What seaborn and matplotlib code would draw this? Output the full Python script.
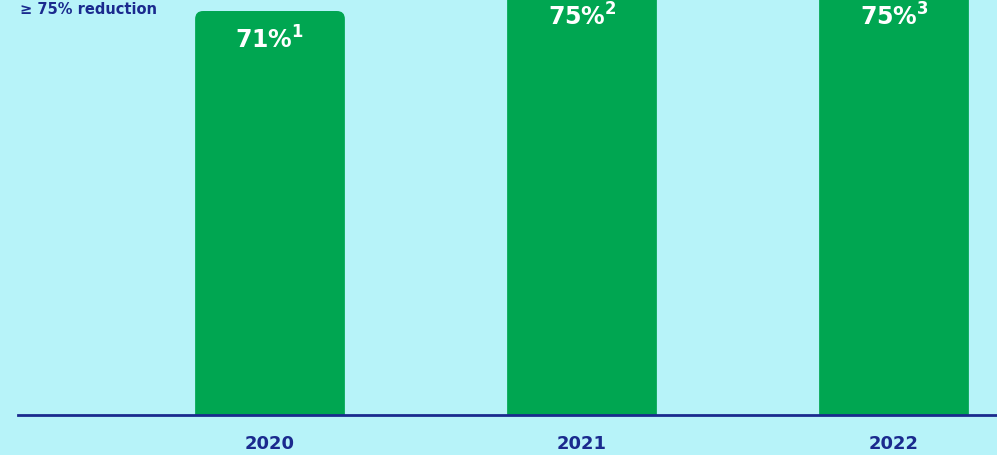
import matplotlib
matplotlib.use("Agg")
import matplotlib.pyplot as plt
import seaborn as sns
import pandas as pd
from matplotlib.patches import FancyBboxPatch

years = ["2020", "2021", "2022"]
values = [71, 75, 75]
value_labels = ["71%", "75%", "75%"]
footnotes = ["1", "2", "3"]
target_text = "≥ 75% reduction"

BG = "#b7f3f9"
GREEN = "#00a651"
NAVY = "#1a2a8e"

sns.set_theme(style="white")
plt.rcParams["font.family"] = ["DejaVu Sans"]
plt.rcParams["mathtext.fontset"] = "dejavusans"

df = pd.DataFrame({"year": years, "value": values})

W, H = 997, 456
fig = plt.figure(figsize=(W / 100, H / 100), dpi=100, facecolor=BG)
ax = fig.add_axes([18 / W, (H - 416) / H, (W - 18) / W, 416 / H])
ax.set_facecolor(BG)

sns.barplot(data=df, x="year", y="value", color=GREEN, saturation=1,
            width=0.48, ax=ax)

ax.set_xlim(-(270 - 18) / 312, 2 + (W - 894) / 312)
ax.set_ylim(0, 73.11)

# replace rectangles with rounded top bars
px_x = 312.0
px_y = 416 / 73.11
r = 8 / px_x
aspect = (8 / px_y) / r
for p in list(ax.patches):
    x, w, h = p.get_x(), p.get_width(), p.get_height()
    ext = 3
    fb = FancyBboxPatch((x, -ext), w, h + ext,
                        boxstyle=f"round,pad=0,rounding_size={r}",
                        mutation_aspect=aspect, facecolor=GREEN,
                        edgecolor="none", zorder=2)
    p.remove()
    ax.add_patch(fb)

for i, (v, lab, fn) in enumerate(zip(values, value_labels, footnotes)):
    txt = lab + r"$^{\mathbf{" + fn + "}}$"
    ax.annotate(txt, xy=(i, v), xytext=(0, -20), textcoords="offset points",
                ha="center", va="center", color="white", fontsize=17,
                fontweight="bold", zorder=3, annotation_clip=False)

for s in ["top", "right", "left"]:
    ax.spines[s].set_visible(False)
ax.spines["bottom"].set_color(NAVY)
ax.spines["bottom"].set_linewidth(2)
ax.spines["bottom"].set_zorder(4)
ax.set_yticks([])
ax.set_xlabel("")
ax.set_ylabel("")
ax.tick_params(axis="x", length=0, pad=14, labelsize=13, labelcolor=NAVY)
for t in ax.get_xticklabels():
    t.set_fontweight("bold")

fig.text(20 / W, 1 - 2 / H, target_text, ha="left", va="top",
         fontsize=10.5, fontweight="bold", color=NAVY)

fig.savefig("out.png", dpi=100, facecolor=BG)
